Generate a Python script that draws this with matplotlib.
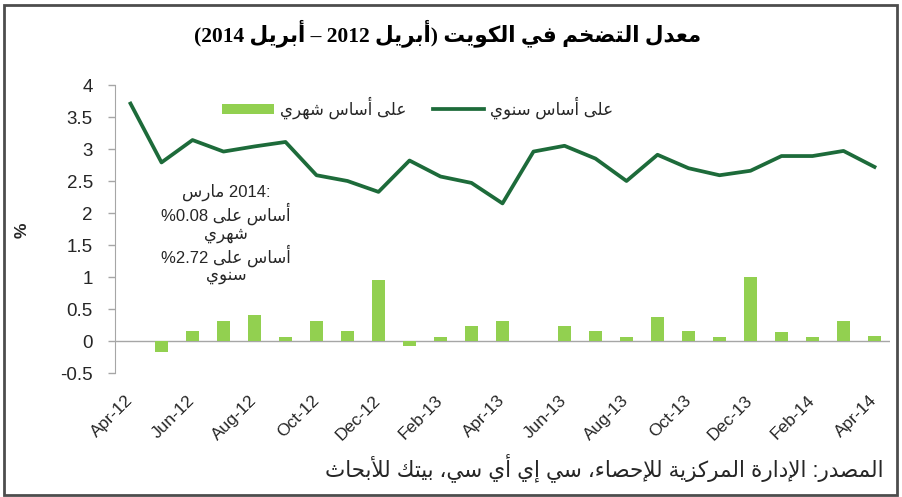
import numpy as np
import matplotlib
matplotlib.use("Agg")
import matplotlib.pyplot as plt
from matplotlib.patches import Rectangle, Patch
from matplotlib.lines import Line2D

# Kuwait inflation, Apr-2012 .. Apr-2014 (%)
annual = [3.71, 2.79, 3.14, 2.96, 3.04, 3.11, 2.59, 2.50, 2.33, 2.82, 2.57, 2.47, 2.15,
          2.96, 3.05, 2.85, 2.50, 2.91, 2.70, 2.59, 2.66, 2.89, 2.89, 2.97, 2.72]
monthly = [0.0, -0.17, 0.15, 0.32, 0.40, 0.07, 0.32, 0.15, 0.95, -0.08, 0.07, 0.23, 0.31,
           0.0, 0.23, 0.15, 0.07, 0.38, 0.15, 0.07, 1.00, 0.14, 0.07, 0.31, 0.08]
tick_labels = ["Apr-12", "Jun-12", "Aug-12", "Oct-12", "Dec-12", "Feb-13", "Apr-13",
               "Jun-13", "Aug-13", "Oct-13", "Dec-13", "Feb-14", "Apr-14"]

title_ar = "معدل التضخم في الكويت (أبريل 2012 – أبريل 2014)"
monthly_name = "على أساس شهري"
annual_name = "على أساس سنوي"
source_ar = "المصدر: الإدارة المركزية للإحصاء، سي إي أي سي، بيتك للأبحاث"

# --- minimal Arabic shaping (matplotlib has no bidi / joining support) ---
AR_FORMS = {
    'ء': ('\uFE80',),
    'أ': ('\uFE83', '\uFE84'),
    'إ': ('\uFE87', '\uFE88'),
    'ا': ('\uFE8D', '\uFE8E'),
    'ب': ('\uFE8F', '\uFE90', '\uFE91', '\uFE92'),
    'ة': ('\uFE93', '\uFE94'),
    'ت': ('\uFE95', '\uFE96', '\uFE97', '\uFE98'),
    'ث': ('\uFE99', '\uFE9A', '\uFE9B', '\uFE9C'),
    'ح': ('\uFEA1', '\uFEA2', '\uFEA3', '\uFEA4'),
    'خ': ('\uFEA5', '\uFEA6', '\uFEA7', '\uFEA8'),
    'د': ('\uFEA9', '\uFEAA'),
    'ر': ('\uFEAD', '\uFEAE'),
    'ز': ('\uFEAF', '\uFEB0'),
    'س': ('\uFEB1', '\uFEB2', '\uFEB3', '\uFEB4'),
    'ش': ('\uFEB5', '\uFEB6', '\uFEB7', '\uFEB8'),
    'ص': ('\uFEB9', '\uFEBA', '\uFEBB', '\uFEBC'),
    'ض': ('\uFEBD', '\uFEBE', '\uFEBF', '\uFEC0'),
    'ع': ('\uFEC9', '\uFECA', '\uFECB', '\uFECC'),
    'ف': ('\uFED1', '\uFED2', '\uFED3', '\uFED4'),
    'ك': ('\uFED9', '\uFEDA', '\uFEDB', '\uFEDC'),
    'ل': ('\uFEDD', '\uFEDE', '\uFEDF', '\uFEE0'),
    'م': ('\uFEE1', '\uFEE2', '\uFEE3', '\uFEE4'),
    'ن': ('\uFEE5', '\uFEE6', '\uFEE7', '\uFEE8'),
    'ه': ('\uFEE9', '\uFEEA', '\uFEEB', '\uFEEC'),
    'و': ('\uFEED', '\uFEEE'),
    'ى': ('\uFEEF', '\uFEF0'),
    'ي': ('\uFEF1', '\uFEF2', '\uFEF3', '\uFEF4'),
}
LAM_ALEF = {'ا': ('\uFEFB', '\uFEFC'), 'أ': ('\uFEF7', '\uFEF8'), 'إ': ('\uFEF9', '\uFEFA')}
MIRROR = {'(': ')', ')': '('}


def shape_word(word):
    """Return the visual (left-to-right) glyph string of one Arabic word."""
    chars = []
    i = 0
    while i < len(word):
        if word[i] == 'ل' and i + 1 < len(word) and word[i + 1] in LAM_ALEF:
            chars.append(('LA', word[i + 1]))
            i += 2
        else:
            chars.append(word[i])
            i += 1

    def dual(c):
        return isinstance(c, str) and c in AR_FORMS and len(AR_FORMS[c]) == 4

    def joining(c):
        return isinstance(c, tuple) or (c in AR_FORMS and len(AR_FORMS[c]) > 1)

    out = []
    for k, c in enumerate(chars):
        prev = chars[k - 1] if k > 0 else None
        nxt = chars[k + 1] if k + 1 < len(chars) else None
        jp = prev is not None and dual(prev)
        if isinstance(c, tuple):
            forms = LAM_ALEF[c[1]]
            out.append(forms[1] if jp else forms[0])
            continue
        if c not in AR_FORMS:
            out.append(c)
            continue
        forms = AR_FORMS[c]
        if len(forms) == 1:
            out.append(forms[0])
            continue
        jn = len(forms) == 4 and nxt is not None and joining(nxt)
        if jp and jn:
            out.append(forms[3])
        elif jp:
            out.append(forms[1])
        elif jn:
            out.append(forms[2])
        else:
            out.append(forms[0])
    return ''.join(reversed(out))


def rtl(text):
    """Very small bidi: reverse word order, shape Arabic words, mirror brackets."""
    vis = []
    for tok in text.split(' '):
        lead, trail = '', ''
        while tok and tok[0] in '(':
            lead += tok[0]
            tok = tok[1:]
        while tok and tok[-1] in ')،:':
            trail = tok[-1] + trail
            tok = tok[:-1]
        core = shape_word(tok) if any(ch in AR_FORMS for ch in tok) else tok
        left = ''.join(MIRROR.get(ch, ch) for ch in reversed(trail))
        right = ''.join(MIRROR.get(ch, ch) for ch in reversed(lead))
        vis.append(left + core + right)
    return ' '.join(reversed(vis))


plt.rcParams['font.family'] = ['Liberation Sans', 'DejaVu Sans']

BAR_C = '#92d050'
LINE_C = '#1d6b3a'
GRAY = '#a6a6a6'
TXT = '#262626'

fig = plt.figure(figsize=(9.02, 4.97), dpi=100)
ax = fig.add_axes([115 / 902, 124 / 497, 775 / 902, 288 / 497])

x = np.arange(len(annual))
ax.bar(x, monthly, width=0.4, color=BAR_C, zorder=2)
ax.plot(x, annual, color=LINE_C, lw=2.7, zorder=3)
ax.axhline(0, color=GRAY, lw=1.0, zorder=1)

ax.set_xlim(-0.5, len(annual) - 0.5)
ax.set_ylim(-0.5, 4)
ax.set_yticks(np.arange(-0.5, 4.01, 0.5))
ax.set_yticklabels(['-0.5', '0', '0.5', '1', '1.5', '2', '2.5', '3', '3.5', '4'])
ax.set_xticks(x[::2])
ax.set_xticklabels(tick_labels, rotation=45, ha='right', va='center',
                   rotation_mode='anchor')
ax.tick_params(axis='x', length=0, pad=18, labelsize=12.5, labelcolor=TXT)
ax.tick_params(axis='y', length=5, width=1, color=GRAY, pad=11,
               labelsize=13.5, labelcolor=TXT)
for s in ['top', 'right', 'bottom']:
    ax.spines[s].set_visible(False)
ax.spines['left'].set_color(GRAY)

# y label
fig.text(22 / 902, 1 - 230 / 497, '%', rotation=90, ha='center', va='center',
         fontsize=12.5, fontweight='bold', color=TXT)

# title
fig.text(448 / 902, 1 - 33 / 497, rtl(title_ar), ha='center', va='center',
         fontsize=15.5, fontweight='bold', color='black',
         family=['Liberation Serif', 'DejaVu Sans'])

# legend
handles = [Patch(facecolor=BAR_C, edgecolor='none'),
           Line2D([0], [0], color=LINE_C, lw=2.7)]
ax.legend(handles, [rtl(monthly_name), rtl(annual_name)], ncol=2,
          loc='center left', bbox_to_anchor=(222 / 902, 1 - 108 / 497),
          bbox_transform=fig.transFigure, frameon=False, fontsize=12,
          handlelength=3.1, handleheight=0.6, handletextpad=0.35,
          columnspacing=1.6, borderpad=0, borderaxespad=0, labelcolor=TXT)

# annotation for the latest month
note = "\n".join([
    shape_word("مارس") + " 2014:",
    "%0.08 " + shape_word("على") + " " + shape_word("أساس"),
    shape_word("شهري"),
    "%2.72 " + shape_word("على") + " " + shape_word("أساس"),
    shape_word("سنوي"),
])
fig.text(226 / 902, 1 - 234 / 497, note, ha='center', va='center',
         fontsize=12, color=TXT, linespacing=1.1, multialignment='center')

# source
fig.text(884 / 902, 1 - 468 / 497, rtl(source_ar), ha='right', va='center',
         fontsize=15.5, color=TXT)

# outer frame
fig.patches.append(Rectangle((4 / 902, 2 / 497), 893 / 902, 490 / 497,
                             transform=fig.transFigure, fill=False,
                             edgecolor='#4d4d4d', lw=2))

fig.savefig('out.png', dpi=100)
